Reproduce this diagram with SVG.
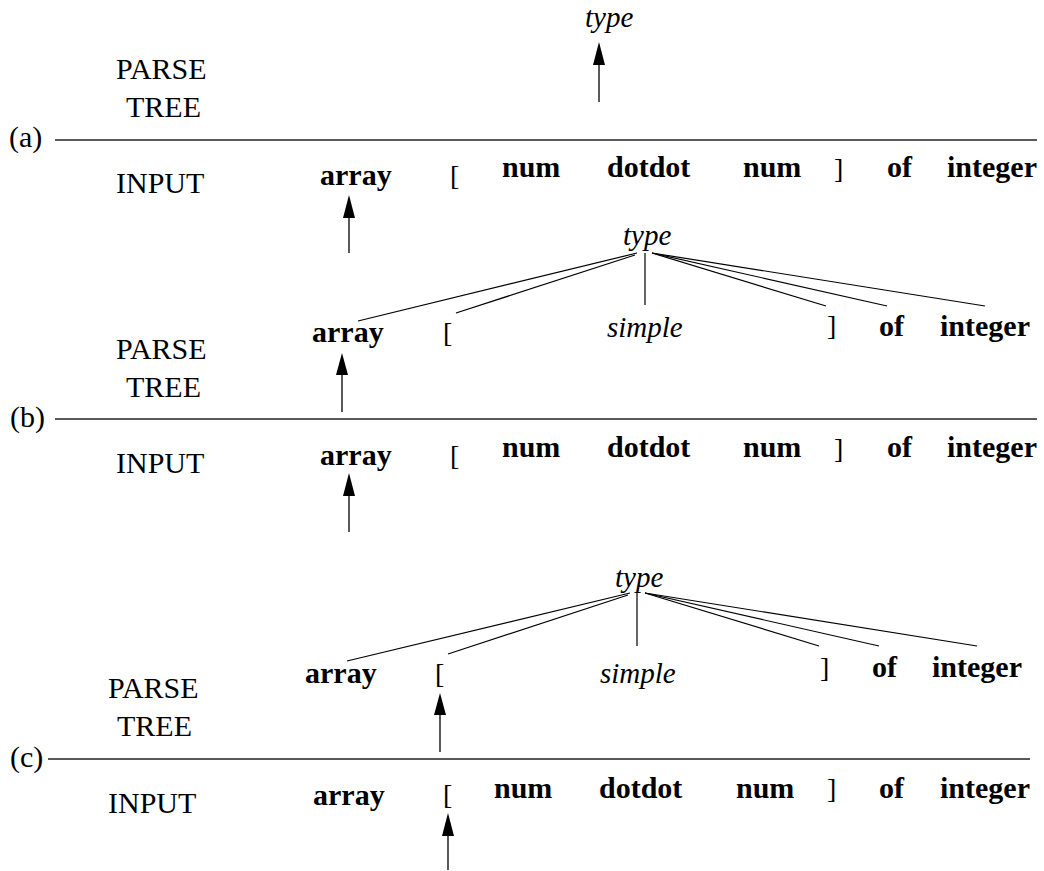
<svg xmlns="http://www.w3.org/2000/svg" width="1044" height="871" viewBox="0 0 1044 871">
<style>
text{font-family:"Liberation Serif","Times New Roman",serif;fill:#000}
.lbl{font-size:30px}
.tok{font-size:30px;font-weight:bold}
.br{font-size:28px}
.nt{font-size:29px;font-style:italic}
.rule{stroke:#222;stroke-width:1.4;fill:none}
.edge{stroke:#000;stroke-width:1.2;fill:none}
.ptr{stroke:#000;stroke-width:1.3;fill:none}
.head{fill:#000}
</style>
<rect width="1044" height="871" fill="#fff"/>

<!-- Panel (a) -->
<g id="panel-a-labels">
<text class="lbl" x="116" y="79">PARSE</text>
<text class="lbl" x="126" y="117">TREE</text>
<text class="lbl" x="9" y="147">(a)</text>
<text class="lbl" x="116" y="193">INPUT</text>
</g>
<g id="a-type"><text class="nt" x="585" y="27">type</text></g>
<g id="a-in-array"><text class="tok" x="320" y="185">array</text></g>
<g id="a-in-lbr"><text class="br" x="450" y="185">[</text></g>
<g id="a-in-num1"><text class="tok" x="502" y="177">num</text></g>
<g id="a-in-dotdot"><text class="tok" x="607" y="177">dotdot</text></g>
<g id="a-in-num2"><text class="tok" x="743" y="177">num</text></g>
<g id="a-in-rbr"><text class="br" x="834" y="178">]</text></g>
<g id="a-in-of"><text class="tok" x="887" y="177">of</text></g>
<g id="a-in-integer"><text class="tok" x="947" y="177">integer</text></g>

<!-- Panel (b) -->
<g id="panel-b-labels">
<text class="lbl" x="116" y="359">PARSE</text>
<text class="lbl" x="126" y="397">TREE</text>
<text class="lbl" x="10" y="427">(b)</text>
<text class="lbl" x="116" y="473">INPUT</text>
</g>
<g id="b-type"><text class="nt" x="623" y="245">type</text></g>
<g id="b-t-array"><text class="tok" x="312" y="342">array</text></g>
<g id="b-t-lbr"><text class="br" x="443" y="342">[</text></g>
<g id="b-t-simple"><text class="nt" x="607" y="337">simple</text></g>
<g id="b-t-rbr"><text class="br" x="827" y="335">]</text></g>
<g id="b-t-of"><text class="tok" x="879" y="336">of</text></g>
<g id="b-t-integer"><text class="tok" x="940" y="336">integer</text></g>
<g id="b-in-array"><text class="tok" x="320" y="465">array</text></g>
<g id="b-in-lbr"><text class="br" x="450" y="465">[</text></g>
<g id="b-in-num1"><text class="tok" x="502" y="457">num</text></g>
<g id="b-in-dotdot"><text class="tok" x="607" y="457">dotdot</text></g>
<g id="b-in-num2"><text class="tok" x="743" y="457">num</text></g>
<g id="b-in-rbr"><text class="br" x="834" y="458">]</text></g>
<g id="b-in-of"><text class="tok" x="887" y="457">of</text></g>
<g id="b-in-integer"><text class="tok" x="947" y="457">integer</text></g>

<!-- Panel (c) -->
<g id="panel-c-labels">
<text class="lbl" x="108" y="698">PARSE</text>
<text class="lbl" x="117" y="736">TREE</text>
<text class="lbl" x="10" y="767">(c)</text>
<text class="lbl" x="108" y="813">INPUT</text>
</g>
<g id="c-type"><text class="nt" x="615" y="587">type</text></g>
<g id="c-t-array"><text class="tok" x="305" y="683">array</text></g>
<g id="c-t-lbr"><text class="br" x="435" y="683">[</text></g>
<g id="c-t-simple"><text class="nt" x="600" y="683">simple</text></g>
<g id="c-t-rbr"><text class="br" x="820" y="677">]</text></g>
<g id="c-t-of"><text class="tok" x="872" y="677">of</text></g>
<g id="c-t-integer"><text class="tok" x="932" y="677">integer</text></g>
<g id="c-in-array"><text class="tok" x="313" y="805">array</text></g>
<g id="c-in-lbr"><text class="br" x="443" y="804">[</text></g>
<g id="c-in-num1"><text class="tok" x="494" y="798">num</text></g>
<g id="c-in-dotdot"><text class="tok" x="599" y="798">dotdot</text></g>
<g id="c-in-num2"><text class="tok" x="736" y="798">num</text></g>
<g id="c-in-rbr"><text class="br" x="827" y="798">]</text></g>
<g id="c-in-of"><text class="tok" x="879" y="798">of</text></g>
<g id="c-in-integer"><text class="tok" x="940" y="798">integer</text></g>

<g id="connectors">
<!-- separator rules -->
<line class="rule" x1="55" y1="140" x2="1037" y2="140"/>
<line class="rule" x1="55" y1="419" x2="1037" y2="419"/>
<line class="rule" x1="48" y1="759" x2="1030" y2="759"/>

<!-- tree edges (b) -->
<line class="edge" x1="637" y1="253" x2="358" y2="321"/>
<line class="edge" x1="635" y1="255" x2="456" y2="313"/>
<line class="edge" x1="645" y1="253" x2="645" y2="305"/>
<line class="edge" x1="652" y1="253" x2="826" y2="306"/>
<line class="edge" x1="652" y1="253" x2="887" y2="306"/>
<line class="edge" x1="652" y1="253" x2="985" y2="306"/>

<!-- tree edges (c) -->
<line class="edge" x1="630" y1="593" x2="347" y2="661"/>
<line class="edge" x1="628" y1="595" x2="448" y2="654"/>
<line class="edge" x1="637" y1="592" x2="637" y2="646"/>
<line class="edge" x1="645" y1="593" x2="819" y2="646"/>
<line class="edge" x1="645" y1="593" x2="879" y2="646"/>
<line class="edge" x1="645" y1="593" x2="977" y2="646"/>

<!-- pointer arrows -->
<line class="ptr" x1="599" y1="102" x2="599" y2="62"/>
<polygon class="head" points="599,42 593,65 605,65"/>
<line class="ptr" x1="349" y1="253" x2="349" y2="215"/>
<polygon class="head" points="349,195 343,218 355,218"/>

<line class="ptr" x1="342" y1="412" x2="342" y2="372"/>
<polygon class="head" points="342,353 336,375 348,375"/>
<line class="ptr" x1="349" y1="532" x2="349" y2="493"/>
<polygon class="head" points="349,473 343,496 355,496"/>

<line class="ptr" x1="440" y1="752" x2="440" y2="712"/>
<polygon class="head" points="440,693 434,715 446,715"/>
<line class="ptr" x1="448" y1="870" x2="448" y2="833"/>
<polygon class="head" points="448,813 442,836 454,836"/>
</g>
</svg>
